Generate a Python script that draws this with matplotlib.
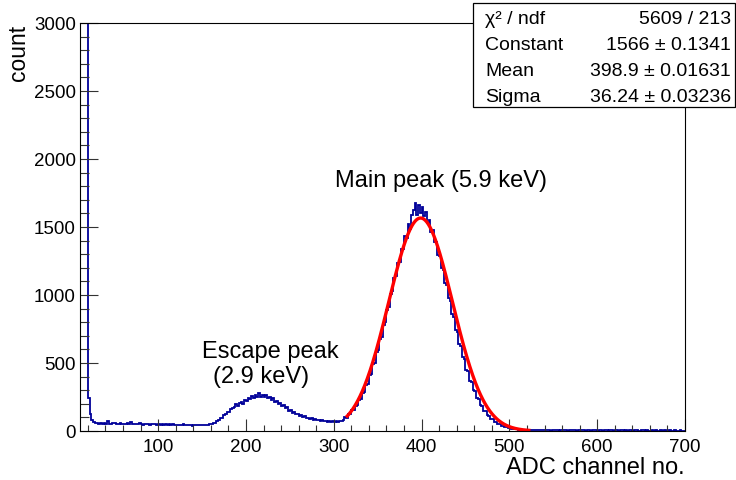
import numpy as np
import matplotlib
matplotlib.use("Agg")
import matplotlib.pyplot as plt
from matplotlib.patches import Rectangle
from matplotlib.ticker import MultipleLocator

plt.rcParams['font.family'] = ['Liberation Sans', 'DejaVu Sans']

# ---------------- data (counts per 2-channel bin) ----------------
bin_width = 2
first_edge = 10

# channels 10-30 : noise spike
counts_spike = [9500, 8600, 7400, 6100, 4800, 240, 122, 84, 68, 61]
# channels 30-160 : flat background
counts_flat = [58, 55, 61, 53, 57, 52, 70, 54, 50, 56, 59, 51, 55, 60, 52,
               54, 49, 57, 52, 66, 50, 55, 48, 53, 58, 51, 47, 54, 50, 52,
               46, 51, 48, 55, 45, 50, 47, 52, 44, 49, 46, 53, 43, 48, 45,
               47, 42, 46, 44, 49, 41, 45, 43, 47, 40, 44, 42, 46, 43, 41,
               45, 42, 47, 44, 48]
# channels 160-310 : escape peak
counts_escape = [50, 56, 62, 71, 80, 94, 99, 118, 122, 141,
                 138, 160, 168, 175, 196, 183, 205, 214, 202, 231,
                 220, 245, 236, 258, 242, 268, 248, 280, 251, 266,
                 247, 262, 239, 250, 228, 240, 212, 224, 200, 206,
                 185, 192, 168, 175, 150, 158, 134, 140, 122, 127,
                 112, 118, 103, 108, 95, 99, 89, 92, 84, 87,
                 79, 83, 75, 79, 71, 76, 69, 73, 67, 71,
                 66, 70, 68, 74, 72]
# channels 310-540 : main peak
counts_main = [84, 101, 98, 124, 122, 151, 152, 186, 190, 231,
               236, 278, 289, 340, 349, 410, 421, 489, 503, 578,
               594, 676, 693, 782, 801, 893, 912, 1009, 1027, 1125,
               1137, 1238, 1241, 1340, 1335, 1437, 1418, 1520, 1482, 1588,
               1625, 1680, 1590, 1660, 1600, 1650, 1580, 1610, 1530, 1550,
               1460, 1478, 1389, 1392, 1297, 1290, 1196, 1185, 1089, 1071,
               975, 956, 860, 841, 745, 731, 640, 627, 543, 528,
               452, 441, 371, 362, 302, 295, 243, 236, 193, 186,
               150, 145, 116, 112, 89, 86, 67, 65, 51, 49,
               37, 37, 28, 27, 20, 21, 15, 16, 12, 13,
               10, 11, 8, 9, 7, 8, 6, 7, 5, 6,
               6, 4, 6, 5, 4]
# channels 540-700 : tail
counts_tail = [5, 4, 6, 3, 5, 7, 4, 5, 3, 6, 4, 5, 6, 3, 4, 5, 7, 4, 3, 5,
               4, 6, 5, 3, 4, 5, 3, 6, 4, 5, 2, 4, 5, 3, 6, 4, 3, 5, 4, 2,
               4, 5, 3, 4, 6, 3, 4, 2, 5, 4,
               3, 4, 5, 2, 3, 4, 6, 3, 4, 3,
               2, 4, 3, 5, 3, 2, 4, 3, 5, 2,
               3, 4, 2, 3, 5, 3, 2, 4, 3, 2]

assert len(counts_spike) == 10
assert len(counts_flat) == 65
assert len(counts_escape) == 75
assert len(counts_main) == 115
assert len(counts_tail) == 80

# Gaussian fit parameters (from the stats box)
fit_constant = 1566
fit_mean = 398.9
fit_sigma = 36.24
fit_range = (314, 524)

stats_labels = ["\u03c7\u00b2 / ndf", "Constant", "Mean", "Sigma"]
stats_values = ["5609 / 213", "1566 \u00b1 0.1341", "398.9 \u00b1 0.01631", "36.24 \u00b1 0.03236"]

counts = np.array(counts_spike + counts_flat + counts_escape + counts_main + counts_tail, dtype=float)
edges = first_edge + bin_width * np.arange(len(counts) + 1)

# ---------------- figure ----------------
W, H = 736, 481
fig = plt.figure(figsize=(W / 100, H / 100), dpi=100)
ax = fig.add_axes([80 / W, 49 / H, 605 / W, 408 / H])

ax.stairs(counts, edges, baseline=None, color='#000099', lw=1.3)

xf = np.linspace(fit_range[0], fit_range[1], 400)
yf = fit_constant * np.exp(-0.5 * ((xf - fit_mean) / fit_sigma) ** 2)
ax.plot(xf, yf, color='#ff0000', lw=2.4, solid_capstyle='butt')

ax.set_xlim(11, 700)
ax.set_ylim(0, 3000)

ax.xaxis.set_major_locator(MultipleLocator(100))
ax.xaxis.set_minor_locator(MultipleLocator(20))
ax.yaxis.set_major_locator(MultipleLocator(500))
ax.yaxis.set_minor_locator(MultipleLocator(100))

ax.tick_params(axis='x', which='both', direction='in', top=False, bottom=True,
               labelsize=13.5, pad=5, width=0.8, color='#333333')
ax.tick_params(axis='x', which='major', length=8.8)
ax.tick_params(axis='x', which='minor', length=4.4)
ax.tick_params(axis='y', which='both', direction='in', right=False, left=True,
               labelsize=13.5, pad=3, width=0.8, color='#333333')
ax.tick_params(axis='y', which='major', length=13)
ax.tick_params(axis='y', which='minor', length=6.5)

for sp in ax.spines.values():
    sp.set_linewidth(0.8)
    sp.set_color('black')

# axis titles
fig.text(19 / W, 1 - 25 / H, 'count', rotation=90, ha='center', va='top', fontsize=16.5)
fig.text(685 / W, 1 - 468 / H, 'ADC channel no.', ha='right', va='center', fontsize=17)

# annotations
ax.text(422, 1801, 'Main peak (5.9 keV)', ha='center', va='baseline', fontsize=17)
ax.text(228, 544, 'Escape peak', ha='center', va='baseline', fontsize=17)
ax.text(217, 360, '(2.9 keV)', ha='center', va='baseline', fontsize=17)

# stats box
bx0, bx1, by0, by1 = 473, 735, 4, 108
fig.patches.append(Rectangle((bx0 / W, 1 - by1 / H), (bx1 - bx0) / W, (by1 - by0) / H,
                             transform=fig.transFigure, facecolor='white',
                             edgecolor='black', lw=0.9, zorder=10))
baselines = [24, 50, 76, 102]
for lab, val, yb in zip(stats_labels, stats_values, baselines):
    fig.text(485 / W, 1 - yb / H, lab, ha='left', va='baseline', fontsize=14, zorder=11)
    fig.text(731 / W, 1 - yb / H, val, ha='right', va='baseline', fontsize=14, zorder=11)

fig.savefig('out.png', dpi=100)
